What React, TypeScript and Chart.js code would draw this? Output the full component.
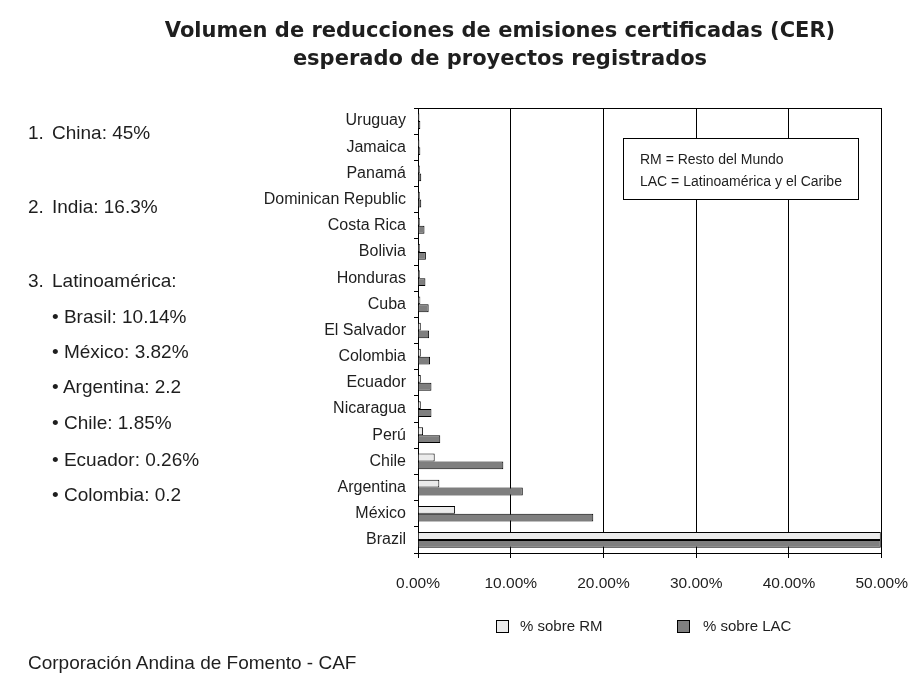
import React, { useEffect, useRef } from 'react';
import { Chart, registerables } from 'chart.js';

Chart.register(...registerables);

const countries = ['Uruguay', 'Jamaica', 'Panamá', 'Dominican Republic', 'Costa Rica', 'Bolivia', 'Honduras', 'Cuba', 'El Salvador', 'Colombia', 'Ecuador', 'Nicaragua', 'Perú', 'Chile', 'Argentina', 'México', 'Brazil'];
const rmValues = [0.15, 0.15, 0.2, 0.2, 0.2, 0.2, 0.2, 0.25, 0.3, 0.3, 0.3, 0.3, 0.55, 1.8, 2.3, 4.0, 49.9];
const lacValues = [0.25, 0.25, 0.35, 0.35, 0.7, 0.85, 0.8, 1.15, 1.2, 1.3, 1.45, 1.45, 2.4, 9.2, 11.3, 18.9, 49.9];
const seriesLabels = ['% sobre RM', '% sobre LAC'];
const titleLines = ['Volumen de reducciones de emisiones certificadas (CER)', 'esperado de proyectos registrados'];
const noteLines = ['RM = Resto del Mundo', 'LAC = Latinoamérica y el Caribe'];
const rankingLines = [['1.', 'China: 45%'], ['2.', 'India: 16.3%'], ['3.', 'Latinoamérica:']];
const latamLines = ['Brasil: 10.14%', 'México: 3.82%', 'Argentina: 2.2', 'Chile: 1.85%', 'Ecuador: 0.26%', 'Colombia: 0.2'];
const footerText = 'Corporación Andina de Fomento - CAF';

const FONT = '"Liberation Sans", Arial, sans-serif';
const TITLE_FONT = '"DejaVu Sans", Verdana, sans-serif';
const TEXT = '#1e1e1e';
const rankingY = [133, 207, 281];
const latamY = [317, 352, 387, 423, 460, 495];

const frameAndNote = {
  id: 'frameAndNote',
  afterDatasetsDraw(chart: any) {
    const { ctx, chartArea } = chart;
    ctx.save();
    ctx.strokeStyle = '#000';
    ctx.lineWidth = 1;
    ctx.beginPath();
    ctx.moveTo(chartArea.left, chartArea.top + 0.5);
    ctx.lineTo(chartArea.right, chartArea.top + 0.5);
    ctx.stroke();
    const bx = 623.5, by = 138.5, bw = 235, bh = 61;
    ctx.fillStyle = '#fff';
    ctx.fillRect(bx, by, bw, bh);
    ctx.strokeRect(bx, by, bw, bh);
    ctx.fillStyle = TEXT;
    ctx.font = `14px ${FONT}`;
    ctx.textBaseline = 'middle';
    ctx.textAlign = 'left';
    ctx.fillText(noteLines[0], 640, 160);
    ctx.fillText(noteLines[1], 640, 182);
    ctx.restore();
  },
};

export default function App() {
  const ref = useRef<HTMLCanvasElement>(null);
  useEffect(() => {
    if (!ref.current) return;
    const chart = new Chart(ref.current, {
      type: 'bar',
      data: {
        labels: countries,
        datasets: [
          { label: seriesLabels[0], data: rmValues, backgroundColor: '#ebebeb', borderColor: '#000', borderWidth: 1, categoryPercentage: 0.6, barPercentage: 1 },
          { label: seriesLabels[1], data: lacValues, backgroundColor: '#7f7f7f', borderColor: '#000', borderWidth: 1, categoryPercentage: 0.6, barPercentage: 1 },
        ],
      },
      options: {
        indexAxis: 'y',
        responsive: false,
        animation: false,
        layout: { padding: { top: 108, right: 42, left: 0, bottom: 0 } },
        plugins: { legend: { display: false }, title: { display: false }, tooltip: { enabled: false } },
        scales: {
          x: {
            min: 0,
            max: 50,
            ticks: { stepSize: 10, callback: (v: any) => Number(v).toFixed(2) + '%', color: TEXT, font: { family: FONT, size: 15.5 }, padding: 16 },
            grid: { color: '#000', lineWidth: 1, tickLength: 5 },
            border: { color: '#000' },
            afterFit: (s: any) => { s.height = 693 - 553; },
          },
          y: {
            ticks: { color: TEXT, font: { family: FONT, size: 16 }, padding: 8 },
            grid: { offset: true, drawOnChartArea: false, color: '#000', tickLength: 4 },
            border: { color: '#000' },
            afterFit: (s: any) => { s.width = 418; },
          },
        },
      },
      plugins: [frameAndNote],
    } as any);
    return () => chart.destroy();
  }, []);

  const txt: React.CSSProperties = { position: 'absolute', fontFamily: FONT, color: TEXT, whiteSpace: 'nowrap', lineHeight: '22px' };
  return (
    <div style={{ position: 'absolute', left: 0, top: 0, width: 924, height: 693, background: '#fff', overflow: 'hidden' }}>
      <canvas ref={ref} width={924} height={693} style={{ position: 'absolute', left: 0, top: 0, width: 924, height: 693 }} />
      {titleLines.map((t, i) => (
        <div key={t} style={{ ...txt, left: 100, width: 800, textAlign: 'center', top: (i === 0 ? 30 : 58) - 13, lineHeight: '26px', fontSize: 21, fontWeight: 'bold', fontFamily: TITLE_FONT }}>{t}</div>
      ))}
      {rankingLines.map((r, i) => (
        <React.Fragment key={r[1]}>
          <div style={{ ...txt, left: 28, top: rankingY[i] - 11, fontSize: 19 }}>{r[0]}</div>
          <div style={{ ...txt, left: 52, top: rankingY[i] - 11, fontSize: 19 }}>{r[1]}</div>
        </React.Fragment>
      ))}
      {latamLines.map((t, i) => (
        <div key={t} style={{ ...txt, left: 52, top: latamY[i] - 11, fontSize: 19 }}>{'• ' + t}</div>
      ))}
      <div style={{ ...txt, left: 28, top: 663 - 11, fontSize: 19 }}>{footerText}</div>
      <div style={{ position: 'absolute', left: 496, top: 620, width: 11, height: 11, border: '1px solid #000', background: '#ebebeb' }} />
      <div style={{ ...txt, left: 520, top: 615, fontSize: 15 }}>{seriesLabels[0]}</div>
      <div style={{ position: 'absolute', left: 677, top: 620, width: 11, height: 11, border: '1px solid #000', background: '#7f7f7f' }} />
      <div style={{ ...txt, left: 703, top: 615, fontSize: 15 }}>{seriesLabels[1]}</div>
    </div>
  );
}
